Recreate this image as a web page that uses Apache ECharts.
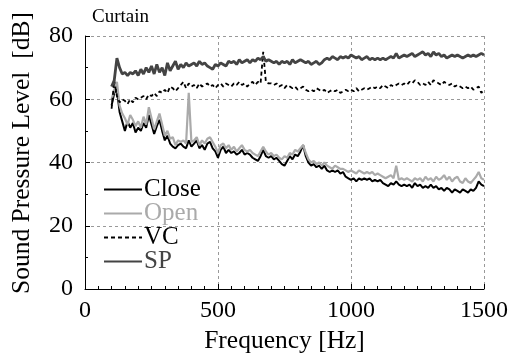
<!DOCTYPE html>
<html><head><meta charset="utf-8">
<script src="https://cdn.jsdelivr.net/npm/echarts@6/dist/echarts.min.js"></script>
<style>html,body{margin:0;padding:0;background:#fff}#c{width:510px;height:356px}</style>
</head><body><div id="c"></div>
<script>
var freqStart = 100, freqStep = 10;
var xTicks = [0, 500, 1000, 1500];
var yTicks = [0, 20, 40, 60, 80];
var seriesNames = ['Close', 'Open', 'VC', 'SP'];

var closeVals = [58,62,63,56,53,50,53,51,52.5,49.5,51,50,52.5,51,55,52,49,51.5,53.5,50,
47,48.5,46,45,44.5,45.5,46,45,44.5,47,45,46,47,44.5,45.5,44,46,46.5,44.5,43.5,
41.5,44,45,43,44,43,43.5,42.5,43,44,42.5,43,42.5,41.5,41,40.5,42,44,42,41.5,
42,41,41.5,40.5,39.5,39,40.5,42,41,42.5,42,43.5,45.5,42,40,39,39.5,38.5,39,38,
39,37.5,37,37.5,37,37.5,36.5,37,35.5,35,34.5,35,34,35,34.5,35,34.5,35,34,34.5,
34,34.5,33.5,33,32.5,33.5,33,34,33,32.5,33,32.5,33,32,33.5,32.5,33,32,32.5,32,
33,32,32.5,31.5,32,31,32,31.5,30.5,31.5,31,30.5,31.5,31,30.5,31.5,31,32,34,33,32.5];

var openVals = [60,63,65.5,58,55.5,54,52,55,53.5,51.5,53,51,54.5,52,57.5,54,50.5,53,55.5,52,
48.5,50,47.5,48,45.5,47,46.5,47,46,62,46.5,47,48,45.5,47,46,47.5,48,46.5,45,
43,45.5,46,44.5,45.5,44,45,43.5,44.5,45.5,44,43.5,44,43,42.5,42,43.5,45,43.5,42.5,
43,42,42.5,41.5,41,42,41.5,43,42.5,44,43.5,44.5,45.5,43,41,40,40.5,39.5,40,39,
40,39,38.5,38,39,38.5,38,38,37.5,37,37.5,37,36.5,37.5,37,36.5,37,36.5,37,36,
36.5,36,35.5,35,35.5,36,35,39,34.5,35,34.5,35,34.5,34,35,34.5,35,34,35.5,34.5,
35,34,35.5,34.5,35,36,34.5,35.5,34,35,35.5,34,33.5,35,34,33.5,34.5,35.5,37,35,34.5];

var vcVals = [57,66,61,59,60,59.5,58.5,60,59,60.5,60,60.5,61,60,61.5,61,62,61,62.5,62,
63,62,64,63.5,62.5,63.5,64.5,65.5,63.5,65,64,64.5,63.5,65,64,64.5,65,64,64.5,63.5,
64.5,65,64,65,64.5,64,65,64.5,65.5,64.5,65,64,65,65.5,64.5,65.5,65,75,65.5,65,
65,64.5,65,64,64.5,63.5,64.5,64,63.5,64,63,63.5,64,63,62.5,63,62.5,63.5,63,62.5,
63,62,62.5,63,62.5,63,62,62.5,63,62.5,63,62.5,63.5,62.5,63,63.5,63,63.5,64,63.5,
64,63.5,64.5,64,63.5,64.5,64,64.5,65,64.5,65,64.5,65.5,65,66,65.5,64.5,65,64.5,65.5,
64.5,66,65.5,65,64.5,65.5,65,64.5,65,64,64.5,64,63.5,64,63.5,64,63,63.5,64,62,63];

var spVals = [64,66,73,70,68,68.5,67.5,68.5,68,69,67.5,69.5,68,70,68.5,70.5,68,71,68.5,70,
67.5,71.5,69,70.5,72,69.5,71,70,71.5,70.5,71,71.5,70.5,72,71,71.5,70.5,70,69.5,71,
70.5,71.5,71,70.5,72,71.5,72,71,72.5,71.5,72,72.5,71.5,72.5,72,73,72.5,73.5,72,72.5,
72,71.5,72,71,72,71.5,72,71,72.5,71.5,72,72.5,72,71.5,72,71,71.5,72,71,71.5,
72.5,73,72.5,73.5,73,72.5,73.5,73,73.5,73,74,73.5,73,73.5,72.5,73,73.5,72.5,73,72.5,
73,72.5,73,72.5,73,73.5,73,74.5,73,73.5,74,73.5,74,74.5,73.5,74,74.5,75,74,74.5,
73.5,75,74,74.5,73.5,74,73,73.5,74,73.5,74,73.5,73,73.5,74,73.5,74,73.5,74,74.5,74];

function pairs(vals){ return vals.map(function(v,i){ return [freqStart + i*freqStep, v]; }); }

var FONT = 'Liberation Serif';
var chart = echarts.init(document.getElementById('c'), null, {renderer:'canvas'});
chart.setOption({
  animation: false,
  backgroundColor: '#fff',
  graphic: [
    { type: 'text', x: 92, y: 8, style: { text: 'Curtain', fontSize: 19, fontFamily: FONT, fill: '#000', align: 'left', verticalAlign: 'top' } },
    { type: 'text', x: 22, y: 153, rotation: Math.PI / 2,
      style: { text: 'Sound Pressure Level  [dB]', fontSize: 25.5, fontFamily: FONT, fill: '#000', align: 'center', verticalAlign: 'middle' } }
  ],
  legend: {
    orient: 'vertical', left: 103, top: 177, padding: 0, itemWidth: 38, itemHeight: 10, itemGap: -1,
    itemStyle: { opacity: 0, borderWidth: 0 },
    textStyle: { fontFamily: FONT, fontSize: 25, color: '#000', padding: [0,0,0,-3] },
    data: [
      { name: 'Close', textStyle: { color: '#000' } },
      { name: 'Open', textStyle: { color: '#aaa' } },
      { name: 'VC', textStyle: { color: '#000' } },
      { name: 'SP', textStyle: { color: '#444' } }
    ]
  },
  grid: { left: 85, right: 26, top: 36, bottom: 67, containLabel: false, outerBoundsMode: 'none' },
  xAxis: {
    type: 'value', min: xTicks[0], max: xTicks[xTicks.length-1], interval: 500,
    name: 'Frequency [Hz]', nameLocation: 'middle', nameGap: 36,
    nameTextStyle: { fontFamily: FONT, fontSize: 25.5, color: '#000' },
    axisLine: { lineStyle: { color: '#000', width: 1 } },
    axisTick: { inside: true, length: 5, lineStyle: { color: '#000' } },
    minorTick: { show: true, splitNumber: 10, length: 3, lineStyle: { color: '#000' } },
    axisLabel: { fontFamily: FONT, fontSize: 24, color: '#000', margin: 10, formatter: function(v){ return String(v); } },
    splitLine: { show: true, lineStyle: { color: '#999', type: [3,3], width: 1 } }
  },
  yAxis: {
    type: 'value', min: yTicks[0], max: yTicks[yTicks.length-1], interval: 20,
    axisLine: { show: true, lineStyle: { color: '#000', width: 1 } },
    axisTick: { show: true, inside: true, length: 5, lineStyle: { color: '#000' } },
    minorTick: { show: true, splitNumber: 2, length: 3, lineStyle: { color: '#000' } },
    axisLabel: { fontFamily: FONT, fontSize: 24, color: '#000', margin: 12, formatter: function(v){ return String(v); } },
    splitLine: { show: true, lineStyle: { color: '#999', type: [3,3], width: 1 } }
  },
  series: [
    { name: 'Close', type: 'line', symbol: 'none', data: pairs(closeVals), lineStyle: { color: '#000', width: 2 }, itemStyle: { color: '#000' } },
    { name: 'Open', type: 'line', symbol: 'none', data: pairs(openVals), lineStyle: { color: '#aaa', width: 2.2 }, itemStyle: { color: '#aaa' } },
    { name: 'VC', type: 'line', symbol: 'none', data: pairs(vcVals), lineStyle: { color: '#000', width: 1.8, type: [4,3] }, itemStyle: { color: '#000' } },
    { name: 'SP', type: 'line', symbol: 'none', data: pairs(spVals), lineStyle: { color: '#444', width: 2.8 }, itemStyle: { color: '#444' } }
  ]
});
</script></body></html>
